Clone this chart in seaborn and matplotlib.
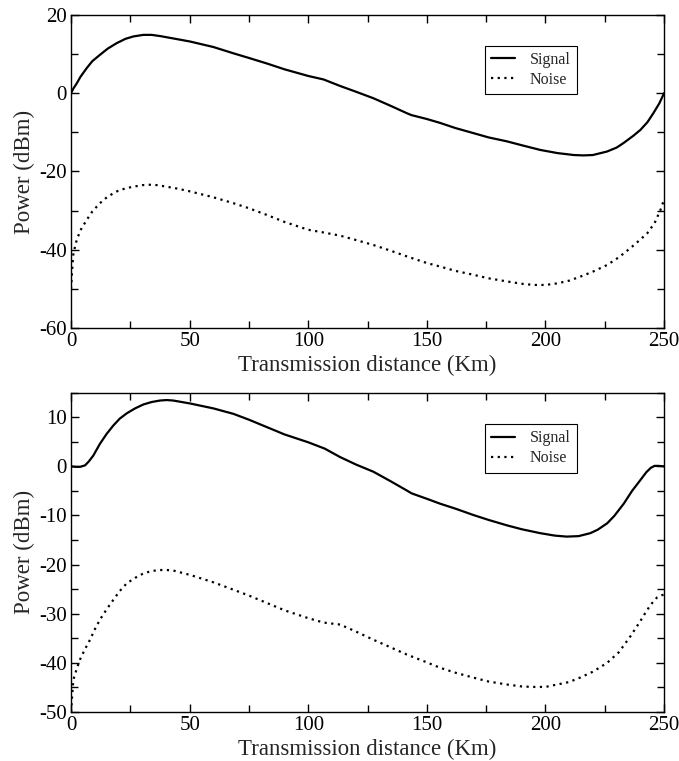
import matplotlib
matplotlib.use("Agg")
import matplotlib.pyplot as plt
import seaborn as sns
from matplotlib.ticker import MultipleLocator

# ---- data ----
top_signal_x = [0, 1, 2.4, 4, 6.6, 9, 12.2, 15.5, 19.3, 23, 26.3, 30.5, 34, 37.5, 43, 50.2,
                60, 68.4, 75, 82.5, 90, 100, 106.5, 113.4, 120, 127.5, 135, 141.5, 143.5,
                150, 155.6, 162, 169.6, 176, 183.7, 190, 197.8, 205, 211.9, 216, 220,
                226, 230, 233, 237, 240, 243, 245.5, 248, 250]
top_signal_y = [0, 1.2, 2.5, 4.2, 6.4, 8.2, 9.8, 11.4, 12.8, 13.9, 14.5, 14.9, 14.9, 14.6, 14.0, 13.2,
                11.8, 10.2, 9.0, 7.6, 6.1, 4.4, 3.5, 1.85, 0.4, -1.3, -3.3, -5.1, -5.6,
                -6.6, -7.6, -8.9, -10.2, -11.3, -12.3, -13.3, -14.5, -15.3, -15.8, -15.9, -15.8,
                -14.9, -13.9, -12.7, -10.9, -9.4, -7.4, -5.1, -2.6, 0]
top_noise_x = [0, 0.5, 1, 2.4, 4, 6.6, 9, 12.2, 15.5, 19.3, 23, 26.3, 30, 33.3, 36.5, 40.3, 45,
               50.2, 60, 68.4, 75, 82.5, 90, 100, 106.5, 113.4, 120, 127.5, 135, 141.5, 150,
               155.6, 162, 169.6, 176, 183.7, 190, 195, 200, 205, 210, 214.6, 220, 226, 231,
               235.8, 240, 242.9, 246, 248.5, 250]
top_noise_y = [-50, -45, -40.9, -37.5, -35.0, -32.4, -30.2, -28.1, -26.4, -25.1, -24.3, -23.9, -23.5, -23.4, -23.5, -23.9, -24.4,
               -25.1, -26.6, -28.1, -29.4, -31.1, -32.9, -34.9, -35.6, -36.4, -37.5, -38.8, -40.3, -41.7, -43.4,
               -44.3, -45.4, -46.4, -47.3, -48.1, -48.7, -49.0, -49.0, -48.6, -47.9, -46.9, -45.6, -43.9, -41.9,
               -39.6, -37.4, -35.8, -33.2, -29.8, -27.2]

bot_signal_x = [0, 2, 3.8, 5.9, 7.5, 9.4, 12.2, 15, 17.8, 20.5, 23.5, 27, 30.5, 34, 37.5, 40.3, 43.1,
                50.2, 60, 68.4, 75, 82.5, 90, 100, 107, 113.4, 120, 127.5, 135, 141.5, 143.6,
                150, 155.6, 162, 169.6, 176, 183.7, 190, 197.8, 204, 209, 214, 218.9, 222, 226,
                229, 233, 236.5, 240, 242.5, 244.4, 246, 247.5, 250]
bot_signal_y = [0, -0.1, -0.1, 0.2, 1.0, 2.2, 4.6, 6.6, 8.3, 9.7, 10.8, 11.8, 12.6, 13.1, 13.4, 13.5, 13.4,
                12.8, 11.8, 10.7, 9.5, 8.0, 6.5, 4.9, 3.6, 1.9, 0.4, -1.1, -3.1, -4.9, -5.5,
                -6.6, -7.6, -8.6, -9.9, -10.9, -12.0, -12.8, -13.6, -14.1, -14.3, -14.2, -13.6, -12.9, -11.6,
                -10.1, -7.6, -5.0, -2.8, -1.2, -0.3, 0.1, 0.1, 0]
bot_noise_x = [0, 0.5, 1, 2.4, 3.8, 6, 8, 10, 12.2, 15, 17.8, 20.5, 23.5, 27, 30.5, 34, 37.5, 40.3, 43.1,
               50.2, 60, 68.4, 75, 82.5, 90, 100, 106.5, 113.4, 120, 127.5, 135, 141.5, 150,
               155.6, 162, 169.6, 176, 183.7, 190, 195, 200, 205, 210, 214.6, 220, 226, 231,
               235.8, 240, 242.9, 245, 247, 248.5, 250]
bot_noise_y = [-50, -46.5, -43.4, -41.2, -39.3, -37.1, -35.3, -33.2, -31.2, -29.1, -27.2, -25.4, -23.8, -22.7, -21.8, -21.3, -21.1, -21.1, -21.2,
               -22.1, -23.6, -25.1, -26.3, -27.8, -29.3, -30.9, -31.8, -32.2, -33.6, -35.3, -36.9, -38.3, -39.9,
               -41.0, -42.0, -43.0, -43.8, -44.4, -44.8, -44.9, -44.9, -44.4, -43.9, -43.0, -41.8, -40.0, -37.8,
               -34.6, -31.5, -29.2, -27.8, -26.7, -26.3, -26.1]

# ---- style ----
sns.set_style("ticks")
plt.rcParams['font.family'] = ['Liberation Serif', 'DejaVu Serif']
plt.rcParams['axes.unicode_minus'] = False

fig = plt.figure(figsize=(6.79, 7.61), dpi=100)
ax1 = fig.add_axes([0.1046, 0.569, 0.8734, 0.4114])
ax2 = fig.add_axes([0.1046, 0.0644, 0.8734, 0.4196])

dotted = (0, (1, 2))

panels = [
    (ax1, top_signal_x, top_signal_y, top_noise_x, top_noise_y, (-60, 20), 20, 10),
    (ax2, bot_signal_x, bot_signal_y, bot_noise_x, bot_noise_y, (-50, 15), 10, 5),
]

for ax, sx, sy, nx, ny, ylim, ymaj, ymin in panels:
    sns.lineplot(x=sx, y=sy, ax=ax, color='black', linewidth=1.6, label='Signal',
                 errorbar=None, estimator=None)
    sns.lineplot(x=nx, y=ny, ax=ax, color='black', linewidth=1.6, linestyle=dotted,
                 label='Noise', errorbar=None, estimator=None)
    ax.set_xlim(0, 250)
    ax.set_ylim(*ylim)
    ax.xaxis.set_major_locator(MultipleLocator(50))
    ax.xaxis.set_minor_locator(MultipleLocator(25))
    ax.yaxis.set_major_locator(MultipleLocator(ymaj))
    ax.yaxis.set_minor_locator(MultipleLocator(ymin))
    ax.tick_params(which='both', direction='in', top=True, right=True,
                   width=1.0, colors='black', labelsize=15)
    ax.tick_params(which='major', length=6, pad=3)
    ax.tick_params(which='minor', length=5)
    for sp in ax.spines.values():
        sp.set_linewidth(1.0)
        sp.set_color('black')
    ax.set_xlabel('Transmission distance (Km)', fontsize=16.5, labelpad=3)
    ax.set_ylabel('Power (dBm)', fontsize=16.5, labelpad=3)
    leg = ax.legend(loc='upper right', bbox_to_anchor=(0.853, 0.902), fontsize=11.5,
                    frameon=True, fancybox=False, shadow=False, edgecolor='black',
                    framealpha=1, handlelength=1.5, handletextpad=0.9,
                    borderpad=0.4, labelspacing=0.25, borderaxespad=0)
    leg.get_frame().set_linewidth(0.8)

fig.savefig('out.png', dpi=100)
